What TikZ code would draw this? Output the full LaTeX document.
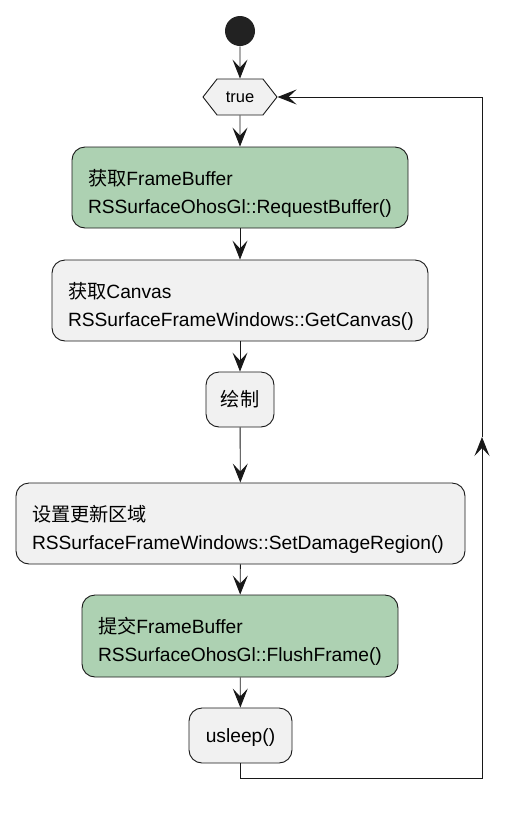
\documentclass[tikz,border=0pt]{standalone}
\usepackage{fontspec}
\setmainfont{Liberation Sans}
\newfontfamily\cjk{Noto Sans CJK SC}
\usetikzlibrary{shapes.symbols,arrows.meta}
\newcommand{\tp}{\rule{0pt}{27pt}}

\begin{document}
\begin{tikzpicture}[%
x=1pt, y=-1pt,
line width=0.9pt,
every node/.style={font=\fontsize{19.2}{28}\selectfont},
act/.style={draw={rgb,255:red,24;green,24;blue,24}, fill={rgb,255:red,241;green,241;blue,241}, rounded corners=13pt, inner sep=0pt, align=left},
okbox/.style={act, fill={rgb,255:red,173;green,209;blue,178}},
arr/.style={-{Stealth[length=19pt,width=15pt,inset=8pt]}, color={rgb,255:red,24;green,24;blue,24}},
]
\useasboundingbox (0,0) rectangle (521,815);
%% start;
\node [circle, fill={rgb,255:red,34;green,34;blue,34}, minimum size=30pt, inner sep=0pt] (start) at (240,31) {};
%% loop head;
\node [signal, signal to=east and west, signal pointer angle=104, draw={rgb,255:red,24;green,24;blue,24}, fill={rgb,255:red,241;green,241;blue,241}, minimum width=74pt, minimum height=36pt, inner sep=0pt, font=\fontsize{16.5}{20}\selectfont] (loop) at (240,97) {true};
%% actions;
\node [okbox, minimum width=336pt, minimum height=81pt, text width=304pt] (buf) at (240,187.5) {\tp{\cjk 获取}FrameBuffer\\RSSurfaceOhosGl::RequestBuffer()};
\node [act, minimum width=376pt, minimum height=81pt, text width=344pt] (cvs) at (240,300.5) {\tp{\cjk 获取}Canvas\\RSSurfaceFrameWindows::GetCanvas()};
\node [act, minimum width=68pt, minimum height=55pt, align=center] (draw) at (240,399.5) {\cjk 绘制};
\node [act, minimum width=449pt, minimum height=81pt, text width=417pt] (dmg) at (240.5,523.5) {\tp{\cjk 设置更新区域}\\RSSurfaceFrameWindows::SetDamageRegion()};
\node [okbox, minimum width=316pt, minimum height=82pt, text width=284pt] (flush) at (240,636) {\tp{\cjk 提交}FrameBuffer\\RSSurfaceOhosGl::FlushFrame()};
\node [act, minimum width=103pt, minimum height=55pt, align=center] (sleep) at (240.5,735.5) {\rule{0pt}{18pt}usleep()};
%% back edge;
\coordinate (rb) at (482,778);
\coordinate (mid) at (482,437);
\coordinate (rt) at (482,97);
%% arrows;
\draw [arr] (start) -- (loop);
\draw [arr] (loop) -- (buf);
\draw [arr] (buf) -- (cvs);
\draw [arr] (cvs) -- (draw);
\draw [arr] (draw) -- (dmg);
\draw [arr] (dmg) -- (flush);
\draw [arr] (flush) -- (sleep);
\draw [arr] (sleep.south) |- (rb) -- (mid);
\draw [arr] (mid) -- (rt) -- (loop.east);
\end{tikzpicture}
\end{document}
